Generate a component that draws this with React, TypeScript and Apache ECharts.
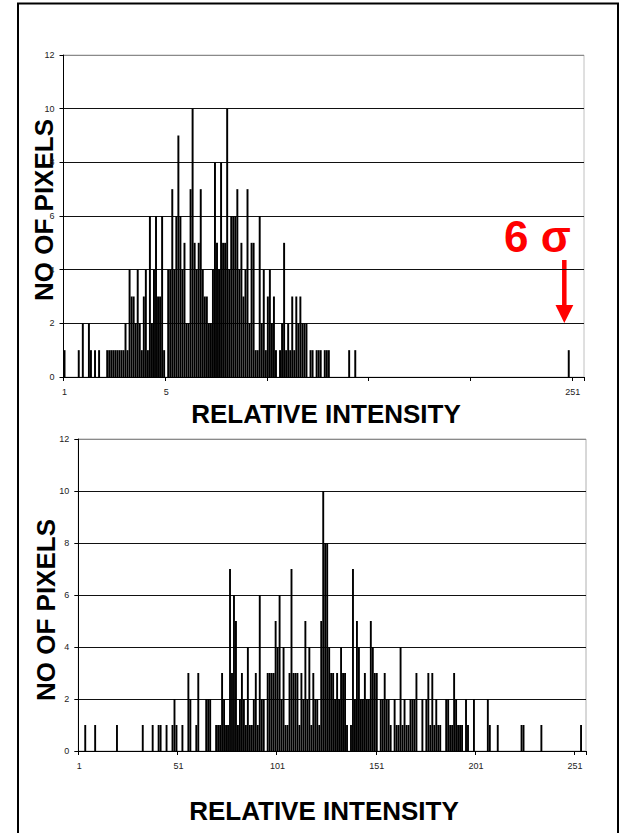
import React, { useEffect, useRef } from "react";
import * as echarts from "echarts";

// Intensity categories 1..256
const categories: string[] = Array.from({ length: 256 }, (_, i) => String(i + 1));

// Top histogram: number of pixels per relative intensity
const topCounts: number[] = [
  1, 0, 0, 0, 0, 0, 0, 1, 0, 2, 0, 0, 2, 1, 0, 1,
  0, 1, 0, 0, 0, 1, 1, 1, 1, 1, 1, 1, 1, 1, 2, 1,
  4, 3, 3, 2, 4, 2, 1, 3, 4, 1, 6, 2, 4, 6, 3, 3,
  6, 1, 0, 4, 4, 7, 4, 6, 9, 6, 4, 5, 2, 2, 7, 10,
  5, 4, 5, 7, 4, 3, 3, 2, 2, 4, 8, 5, 4, 8, 5, 5,
  10, 4, 6, 6, 6, 7, 4, 5, 3, 4, 7, 2, 5, 5, 1, 1,
  6, 2, 4, 1, 3, 4, 2, 3, 1, 0, 1, 2, 5, 1, 2, 1,
  3, 1, 3, 2, 3, 2, 2, 2, 0, 1, 1, 0, 1, 1, 1, 0,
  1, 1, 1, 0, 0, 0, 0, 0, 0, 0, 0, 0, 1, 0, 0, 1,
  0, 0, 0, 0, 0, 0, 0, 0, 0, 0, 0, 0, 0, 0, 0, 0,
  0, 0, 0, 0, 0, 0, 0, 0, 0, 0, 0, 0, 0, 0, 0, 0,
  0, 0, 0, 0, 0, 0, 0, 0, 0, 0, 0, 0, 0, 0, 0, 0,
  0, 0, 0, 0, 0, 0, 0, 0, 0, 0, 0, 0, 0, 0, 0, 0,
  0, 0, 0, 0, 0, 0, 0, 0, 0, 0, 0, 0, 0, 0, 0, 0,
  0, 0, 0, 0, 0, 0, 0, 0, 0, 0, 0, 0, 0, 0, 0, 0,
  0, 0, 0, 0, 0, 0, 0, 0, 1, 0, 0, 0, 0, 0, 0, 0,
];

// Bottom histogram
const bottomCounts: number[] = [
  0, 0, 0, 1, 0, 0, 0, 0, 1, 0, 0, 0, 0, 0, 0, 0,
  0, 0, 0, 1, 0, 0, 0, 0, 0, 0, 0, 0, 0, 0, 0, 0,
  1, 0, 0, 0, 0, 1, 0, 0, 1, 1, 0, 0, 1, 0, 0, 1,
  2, 1, 0, 0, 1, 0, 0, 3, 2, 0, 0, 1, 3, 0, 0, 0,
  2, 2, 2, 0, 0, 1, 1, 1, 3, 2, 1, 1, 7, 3, 6, 5,
  1, 2, 3, 2, 1, 4, 1, 1, 2, 3, 1, 6, 2, 2, 0, 3,
  3, 3, 3, 5, 4, 6, 2, 4, 1, 1, 3, 7, 3, 3, 3, 1,
  3, 2, 5, 2, 4, 1, 3, 2, 2, 1, 5, 10, 8, 8, 4, 3,
  3, 2, 3, 2, 4, 3, 3, 1, 0, 1, 7, 2, 5, 4, 2, 2,
  3, 2, 2, 5, 4, 3, 3, 0, 2, 2, 3, 2, 2, 1, 0, 2,
  1, 1, 4, 1, 2, 1, 1, 2, 2, 2, 3, 0, 0, 2, 0, 2,
  3, 1, 3, 1, 2, 1, 1, 0, 0, 2, 2, 1, 1, 3, 2, 1,
  1, 1, 0, 2, 1, 0, 0, 2, 0, 0, 0, 0, 0, 0, 2, 1,
  0, 0, 0, 1, 0, 0, 0, 0, 0, 0, 0, 0, 0, 0, 0, 1,
  1, 0, 0, 0, 0, 0, 0, 0, 0, 1, 0, 0, 0, 0, 0, 0,
  0, 0, 0, 0, 0, 0, 0, 0, 0, 0, 0, 0, 0, 1, 0, 0,
];

// Tick labels shown every 50 categories
const topTickLabels: string[] = ["1", "5", "", "", "", "251"];
const bottomTickLabels: string[] = ["1", "51", "101", "151", "201", "251"];

const yAxisName = "NO OF PIXELS";
const xAxisName = "RELATIVE INTENSITY";
const annotation = "6 σ";

const FONT = "'Liberation Sans', Arial, Helvetica, sans-serif";

function makeXAxis(gridIndex: number, tickLabels: string[]) {
  return {
    type: "category",
    gridIndex,
    data: categories,
    boundaryGap: true,
    axisLine: { show: true, lineStyle: { color: "#000", width: 1 } },
    axisTick: { show: true, interval: 49, length: 4, lineStyle: { color: "#000" } },
    axisLabel: {
      interval: 49,
      margin: 10,
      fontSize: 9,
      color: "#222",
      fontFamily: FONT,
      formatter: (_v: string, idx: number) => tickLabels[Math.round(idx / 50)] ?? "",
    },
    splitLine: { show: false },
  };
}

function makeYAxis(gridIndex: number) {
  return {
    type: "value",
    gridIndex,
    min: 0,
    max: 12,
    interval: 2,
    axisLine: { show: true, lineStyle: { color: "#000", width: 1 } },
    axisTick: { show: true, length: 4, lineStyle: { color: "#000" } },
    axisLabel: { fontSize: 9, color: "#222", margin: 9, fontFamily: FONT },
    splitLine: {
      show: true,
      lineStyle: {
        color: ["#000", "#111", "#111", "#111", "#111", "#111", "#8a8a8a"],
        width: 1,
      },
    },
  };
}

export default function App() {
  const ref = useRef<HTMLDivElement>(null);

  useEffect(() => {
    if (!ref.current) return;
    const chart = echarts.init(ref.current, null, { renderer: "svg" });

    const option: any = {
      animation: false,
      backgroundColor: "#fff",
      grid: [
        { left: 63.5, top: 55, width: 520.5, height: 322, show: true, borderColor: "#c0c0c0", borderWidth: 1, backgroundColor: "transparent" },
        { left: 78.3, top: 439, width: 507.7, height: 312, show: true, borderColor: "#b0b0b0", borderWidth: 1, backgroundColor: "transparent" },
      ],
      xAxis: [makeXAxis(0, topTickLabels), makeXAxis(1, bottomTickLabels)],
      yAxis: [makeYAxis(0), makeYAxis(1)],
      series: [
        {
          type: "bar",
          xAxisIndex: 0,
          yAxisIndex: 0,
          data: topCounts,
          barCategoryGap: "4%",
          itemStyle: { color: "#000" },
          silent: true,
        },
        {
          type: "bar",
          xAxisIndex: 1,
          yAxisIndex: 1,
          data: bottomCounts,
          barCategoryGap: "4%",
          itemStyle: { color: "#000" },
          silent: true,
        },
      ],
      graphic: [
        {
          type: "rect",
          shape: { x: 18, y: 3.5, width: 600, height: 850 },
          style: { fill: "none", stroke: "#000", lineWidth: 2 },
          silent: true,
        },
        {
          type: "text",
          x: 44,
          y: 210,
          rotation: Math.PI / 2,
          style: {
            text: yAxisName,
            x: 0,
            y: 0,
            align: "center",
            verticalAlign: "middle",
            font: `bold 26px ${FONT}`,
            fill: "#000",
          },
        },
        {
          type: "text",
          x: 46,
          y: 610,
          rotation: Math.PI / 2,
          style: {
            text: yAxisName,
            x: 0,
            y: 0,
            align: "center",
            verticalAlign: "middle",
            font: `bold 26px ${FONT}`,
            fill: "#000",
          },
        },
        {
          type: "text",
          x: 326,
          y: 414,
          style: {
            text: xAxisName,
            x: 0,
            y: 0,
            align: "center",
            verticalAlign: "middle",
            font: `bold 26px ${FONT}`,
            fill: "#000",
          },
        },
        {
          type: "text",
          x: 324,
          y: 811,
          style: {
            text: xAxisName,
            x: 0,
            y: 0,
            align: "center",
            verticalAlign: "middle",
            font: `bold 26px ${FONT}`,
            fill: "#000",
          },
        },
        {
          type: "text",
          x: 504,
          y: 236,
          style: {
            text: annotation,
            x: 0,
            y: 0,
            align: "left",
            verticalAlign: "middle",
            font: `bold 44px ${FONT}`,
            fill: "#ff0000",
          },
        },
        {
          type: "line",
          shape: { x1: 564.3, y1: 260, x2: 564.3, y2: 308 },
          style: { stroke: "#ff0000", lineWidth: 4.5 },
        },
        {
          type: "polygon",
          shape: { points: [[555.5, 305], [573.3, 305], [564.3, 323]] },
          style: { fill: "#ff0000" },
        },
      ],
    };

    chart.setOption(option);
    return () => chart.dispose();
  }, []);

  return (
    <div
      ref={ref}
      style={{ position: "absolute", left: 0, top: 0, width: 619, height: 833, background: "#fff" }}
    />
  );
}
